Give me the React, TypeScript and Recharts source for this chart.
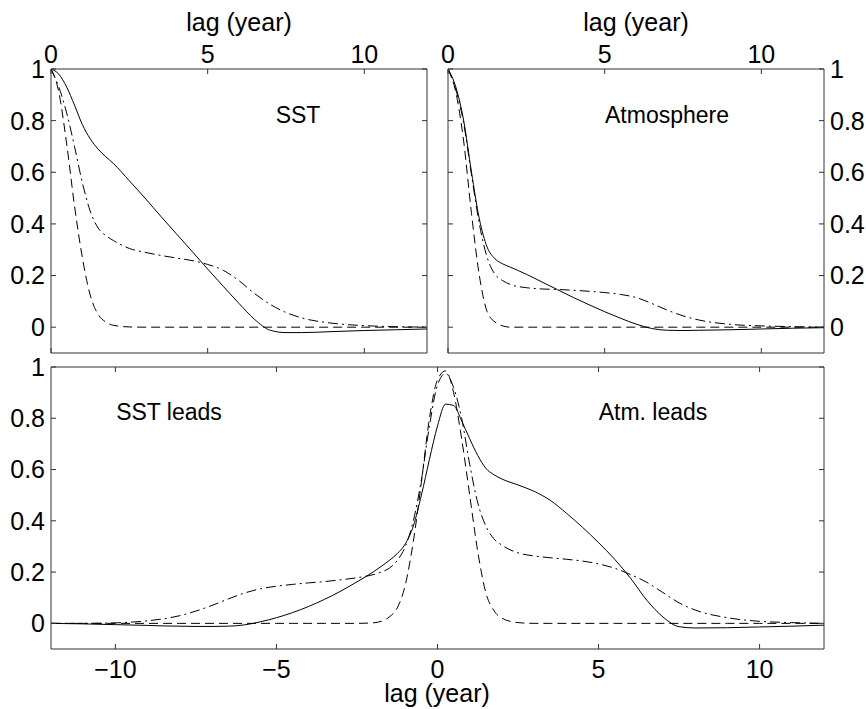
import React from 'react';
import { LineChart, Line, XAxis, YAxis } from 'recharts';

// lag grid (years) shared by the two upper panels
const topLags = [0, 0.25, 0.5, 0.75, 1, 1.25, 1.5, 1.75, 2, 2.5, 3, 3.5, 4, 4.5, 5, 5.5, 6, 6.5, 7, 7.5, 8, 9, 10, 11, 12];

// SST autocorrelation
const sstSolid = [1, 0.98, 0.93, 0.86, 0.785, 0.73, 0.69, 0.66, 0.633, 0.567, 0.5, 0.43, 0.362, 0.294, 0.225, 0.158, 0.092, 0.03, -0.012, -0.021, -0.021, -0.017, -0.013, -0.01, -0.007];
const sstDashDot = [1, 0.93, 0.83, 0.7, 0.56, 0.45, 0.385, 0.355, 0.335, 0.305, 0.29, 0.278, 0.268, 0.258, 0.243, 0.22, 0.18, 0.13, 0.088, 0.057, 0.036, 0.015, 0.006, 0.002, 0];
const sstDashed = [1, 0.91, 0.71, 0.47, 0.27, 0.125, 0.05, 0.02, 0.007, 0.001, 0, 0, 0, 0, 0, 0, 0, 0, 0, 0, 0, 0, 0, 0, 0];

// Atmosphere autocorrelation
const atmSolid = [1, 0.93, 0.8, 0.6, 0.42, 0.31, 0.265, 0.245, 0.232, 0.205, 0.175, 0.145, 0.115, 0.087, 0.06, 0.035, 0.012, -0.005, -0.012, -0.013, -0.012, -0.01, -0.007, -0.004, -0.002];
const atmDashDot = [1, 0.92, 0.79, 0.59, 0.4, 0.27, 0.205, 0.18, 0.165, 0.153, 0.148, 0.146, 0.143, 0.139, 0.134, 0.127, 0.115, 0.092, 0.066, 0.044, 0.028, 0.011, 0.005, 0.002, 0];
const atmDashed = [1, 0.91, 0.72, 0.44, 0.2, 0.06, 0.02, 0.005, 0, 0, 0, 0, 0, 0, 0, 0, 0, 0, 0, 0, 0, 0, 0, 0, 0];

// cross-correlation, negative lag = SST leads
const crossLags = [-12, -11, -10, -9, -8.5, -8, -7.5, -7, -6.5, -6, -5.5, -5, -4.5, -4, -3.5, -3, -2.5, -2, -1.75, -1.5, -1.25, -1, -0.75, -0.5, -0.25, 0, 0.25, 0.5, 0.75, 1, 1.25, 1.5, 1.75, 2, 2.5, 3, 3.5, 4, 4.5, 5, 5.5, 6, 6.5, 7, 7.5, 8, 9, 10, 11, 12];
const crossSolid = [0, -0.002, -0.005, -0.008, -0.01, -0.011, -0.012, -0.012, -0.011, -0.006, 0.006, 0.022, 0.042, 0.066, 0.094, 0.126, 0.162, 0.2, 0.222, 0.245, 0.272, 0.31, 0.38, 0.5, 0.64, 0.77, 0.855, 0.85, 0.79, 0.72, 0.655, 0.605, 0.58, 0.563, 0.54, 0.515, 0.48, 0.43, 0.375, 0.315, 0.25, 0.175, 0.09, 0.025, -0.013, -0.018, -0.017, -0.014, -0.011, -0.007];
const crossDashDot = [0, 0, 0.002, 0.01, 0.018, 0.03, 0.048, 0.07, 0.095, 0.118, 0.135, 0.145, 0.152, 0.158, 0.163, 0.17, 0.178, 0.19, 0.2, 0.215, 0.245, 0.3, 0.4, 0.56, 0.77, 0.93, 0.975, 0.92, 0.8, 0.62, 0.47, 0.38, 0.33, 0.305, 0.275, 0.263, 0.256, 0.25, 0.243, 0.232, 0.215, 0.19, 0.16, 0.12, 0.08, 0.052, 0.022, 0.008, 0.003, 0];
const crossDashed = [0, 0, 0, 0, 0, 0, 0, 0, 0, 0, 0, 0, 0, 0, 0, 0, 0, 0.002, 0.008, 0.025, 0.06, 0.15, 0.32, 0.55, 0.8, 0.95, 0.985, 0.9, 0.72, 0.5, 0.28, 0.12, 0.05, 0.02, 0.003, 0, 0, 0, 0, 0, 0, 0, 0, 0, 0, 0, 0, 0, 0, 0];

const yTicks = [0, 0.2, 0.4, 0.6, 0.8, 1];
const topXTicks = [0, 5, 10];
const crossXTicks = [-10, -5, 0, 5, 10];

const FONT = '"Liberation Sans", Arial, Helvetica, sans-serif';
const INK = '#000';
const FRAME = '#333';
const DASHED = '9 5';
const DASH_DOT = '10 4 2 4';

type Row = { lag: number; solid: number; dashDot: number; dashed: number };

const toRows = (lags: number[], solid: number[], dashDot: number[], dashed: number[]): Row[] =>
  lags.map((lag, i) => ({ lag, solid: solid[i], dashDot: dashDot[i], dashed: dashed[i] }));

const tickStyle = { fontSize: 25, fontFamily: FONT, fill: INK };
const blank = () => '';
const withMinus = (v: number) => (v < 0 ? `\u2212${Math.abs(v)}` : String(v));

interface PanelProps {
  data: Row[];
  width: number;
  height: number;
  xDomain: [number, number];
  xTicks: number[];
  xLabels: 'top' | 'bottom';
  yLabels: 'left' | 'right';
  top: number;
  bottom: number;
  left: number;
  right: number;
}

function Panel({ data, width, height, xDomain, xTicks, xLabels, yLabels, top, bottom, left, right }: PanelProps) {
  const axisCommon = {
    type: 'number' as const,
    axisLine: { stroke: FRAME },
    tickLine: { stroke: FRAME },
    tickSize: -5,
    tick: tickStyle,
    allowDataOverflow: true,
    interval: 0 as const,
  };
  return (
    <LineChart width={width} height={height} data={data} margin={{ top: 0, right: 0, bottom: 0, left: 0 }}>
      <XAxis {...axisCommon} xAxisId="t" orientation="top" dataKey="lag" domain={xDomain} ticks={xTicks}
        height={top} tickMargin={11} tickFormatter={xLabels === 'top' ? withMinus : blank} />
      <XAxis {...axisCommon} xAxisId="b" orientation="bottom" dataKey="lag" domain={xDomain} ticks={xTicks}
        height={bottom} tickMargin={16} tickFormatter={xLabels === 'bottom' ? withMinus : blank} />
      <YAxis {...axisCommon} yAxisId="l" orientation="left" domain={[-0.1, 1]} ticks={yTicks}
        width={left} tickMargin={11} tickFormatter={yLabels === 'left' ? String : blank} />
      <YAxis {...axisCommon} yAxisId="r" orientation="right" domain={[-0.1, 1]} ticks={yTicks}
        width={right} tickMargin={11} tickFormatter={yLabels === 'right' ? String : blank} />
      <Line xAxisId="t" yAxisId="l" type="monotone" dataKey="dashed" stroke={INK} strokeWidth={1}
        strokeDasharray={DASHED} dot={false} isAnimationActive={false} />
      <Line xAxisId="t" yAxisId="l" type="monotone" dataKey="dashDot" stroke={INK} strokeWidth={1}
        strokeDasharray={DASH_DOT} dot={false} isAnimationActive={false} />
      <Line xAxisId="t" yAxisId="l" type="monotone" dataKey="solid" stroke={INK} strokeWidth={1}
        dot={false} isAnimationActive={false} />
    </LineChart>
  );
}

const textAt = (x: number, y: number, size: number): React.CSSProperties => ({
  position: 'absolute',
  left: x,
  top: y,
  transform: 'translate(-50%, -50%)',
  fontFamily: FONT,
  fontSize: size,
  lineHeight: 1,
  color: INK,
  whiteSpace: 'nowrap',
});

export default function App() {
  return (
    <div style={{ position: 'absolute', left: 0, top: 0, width: 866, height: 709, background: '#fff', overflow: 'hidden' }}>
      <div style={{ position: 'absolute', left: 0, top: 0 }}>
        <Panel data={toRows(topLags, sstSolid, sstDashDot, sstDashed)} width={440} height={360}
          xDomain={[0, 12]} xTicks={topXTicks} xLabels="top" yLabels="left"
          top={69} bottom={7} left={51} right={13} />
      </div>
      <div style={{ position: 'absolute', left: 440, top: 0 }}>
        <Panel data={toRows(topLags, atmSolid, atmDashDot, atmDashed)} width={426} height={360}
          xDomain={[0, 12]} xTicks={topXTicks} xLabels="top" yLabels="right"
          top={69} bottom={7} left={8} right={42} />
      </div>
      <div style={{ position: 'absolute', left: 0, top: 340 }}>
        <Panel data={toRows(crossLags, crossSolid, crossDashDot, crossDashed)} width={866} height={369}
          xDomain={[-12, 12]} xTicks={crossXTicks} xLabels="bottom" yLabels="left"
          top={27} bottom={60} left={51} right={42} />
      </div>
      <div style={textAt(239, 22, 25)}>lag (year)</div>
      <div style={textAt(636, 22, 25)}>lag (year)</div>
      <div style={textAt(437, 693, 25)}>lag (year)</div>
      <div style={textAt(298, 115, 23)}>SST</div>
      <div style={textAt(667, 115, 23)}>Atmosphere</div>
      <div style={textAt(169, 412, 23)}>SST leads</div>
      <div style={textAt(653, 412, 23)}>Atm. leads</div>
    </div>
  );
}
